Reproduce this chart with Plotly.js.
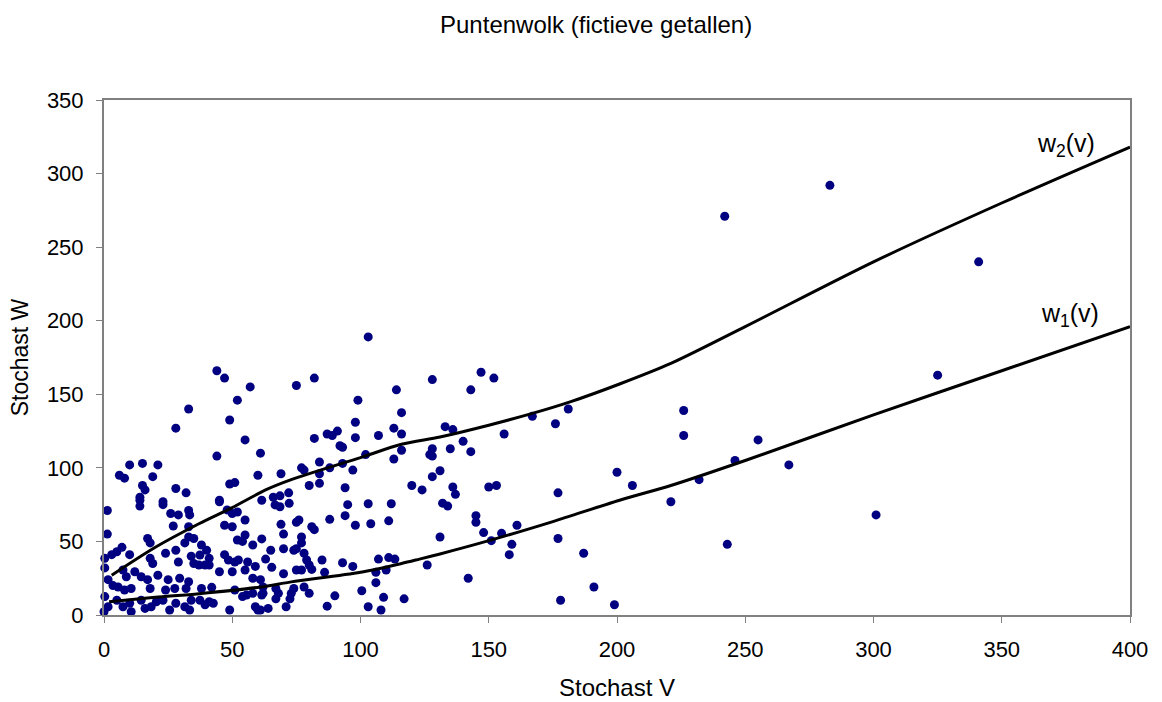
<!DOCTYPE html>
<html>
<head>
<meta charset="utf-8">
<script src="https://cdn.plot.ly/plotly-3.0.1.min.js"></script>
<style>html,body{margin:0;padding:0;background:#fff;}#chart{width:1162px;height:702px;}</style>
</head>
<body>
<div id="chart"></div>
<script>
// Scatter points: Stochast V and Stochast W
const pointsV = [
242,283,341,325,301,267,255,246,243,232,226,226,221,206,200,199,191,187,181,176,177,177,178,167,
128,147,152,143,133,136,156,140,128,127,128,135,143,131,128,124,136,137,150,153,132,134,145,145,148,155,161,151,159,158,131,126,142,
103,44,47,57,52,75,82,99,114,116,49,98,
33,28,55,44,61,10,15,21,6,8,19,60,15,49,51,28,
16,14,32,23,
69,45,61.5,66,68.6,72,
82,87,89,91,98,107,113,116,92,93,102,113,116,84,77,78,88,93,97,84,84,80,94,120,
66.7,68.6,72.2,95,103,112,94,88,98,104,111,76,75,69,70,81,82,77,77,75,74,61.5,70,65,78,79,80,63,65.4,70,75,77,81,85,86,93,97,107,111,113.4,106,110,106,100.5,90,109,117,87,103,108,62,62,61,67,68,67,74,73,72.5,71,78,80,64,61,
1.3,14,14,23,26,29,33,33.4,27,33,1.3,17,18,33,35,31.5,7,5,3,0.3,10,18,19,24,28,29,34,35,0.3,1.6,3.5,7.4,8.7,12,14.5,5.5,8,10.6,17,21,25,29.5,33,18,24,27.6,32,0.3,1.6,0,5,7.4,10,10.6,14.5,16,18.4,20.4,23,25.6,28,31.5,34,33.4,
45,48,50,52,55,47,50,55,52,54,58,38,37.4,40,41,47,48.5,51,52.4,56,59,58,37,39.4,41,45,50,55,38,42,51,54,55.6,58,61.5,37.4,39.4,41,42.6,49,59,60
];
const pointsW = [
271,292,240,163,68,102,119,105,48,92,139,122,77,88,97,7,19,42,140,130,83,52,10,135,
160,165,161,153,128,126,123,118,113,109,108,113,111,98,94,85,87,82,87,88,76,74,67.5,63,56,55.5,61,50.5,48,41,53,34,25,
189,166,161,155,146,156,161,146,153,137.5,132.5,131,
140,127,119,108,110,102,103,102,95,93,94,95,88,89,90,86,
85,80,83,77,
96,78,78,80,81,83,
120,123,122,125,120.5,122,127,123,115,114,109,106,112,104,100,98.5,100,103,98.5,96,89.5,88,86.5,88,
74.8,73.6,75.9,75,75.6,75.6,67.5,65,61,62,64,64.6,63,61.6,55,60,58,53,49,45,44,51.7,45,44,42,37.4,34,38,32.4,28,30.6,30.6,31,37.4,29,35.5,33,38,39,38,29,30.6,22,16.5,13,12,11,6,5.6,3.4,19,14.7,24,18,14.7,11,18,14.7,11,5.6,19,14.7,4.5,3.4,
71,74,78,75,69,68,71,68,60.5,60,55,52,49,53,52,49,46,43,41,38.5,41,38.5,35,42,44,36,40,35,32,24,20,30.6,26,29.4,26,19,17,18,24,27,24,25,22.6,18,17,18,18,12.5,5.6,2.2,10,5.6,8,2.2,10,4.5,5.6,9,10,3.4,8,5.6,10,3.4,
77,71.4,69,70,64.6,61,60,54.4,51,50,47.6,47.6,40.8,44,38.5,41,37.4,36,37.4,36,33,25,34,34,34,29.4,29.4,30.6,18,18.8,17,12.5,13.6,14.7,13.6,10,7,9,8,3.4,5.6,3.4
];
// Curve w1(v) (lower) and w2(v) (upper)
const w1V = [2, 20, 37, 61, 73, 100, 116, 123, 131, 149, 175, 201, 221, 250, 300, 350, 400];
const w1W = [9, 12, 14.5, 19, 22.5, 29, 35, 38, 41.5, 50, 63.5, 78, 88, 105, 136, 166, 196];
const w2V = [3, 20, 37, 50, 63, 73, 100, 116, 131, 150, 167, 182, 201, 221, 250, 300, 350, 400];
const w2W = [27, 46, 62, 73, 85, 92, 107, 116, 121, 129, 137, 145, 157, 171, 196, 240, 280, 318];
const xTicks = [0, 50, 100, 150, 200, 250, 300, 350, 400];
const yTicks = [0, 50, 100, 150, 200, 250, 300, 350];

const font = "Liberation Sans, Arial, sans-serif";
const traces = [
  {x: pointsV, y: pointsW, type: 'scatter', mode: 'markers',
   marker: {color: '#000080', size: 9}, hoverinfo: 'x+y', cliponaxis: false},
  {x: w2V, y: w2W, type: 'scatter', mode: 'lines',
   line: {color: '#000000', width: 3, shape: 'spline', smoothing: 0.8}},
  {x: w1V, y: w1W, type: 'scatter', mode: 'lines',
   line: {color: '#000000', width: 3, shape: 'spline', smoothing: 0.8}}
];
const axisCommon = {
  showgrid: false, zeroline: false, showline: true, mirror: true,
  linecolor: '#808080', linewidth: 2, ticks: 'outside', ticklen: 6,
  tickcolor: '#808080', tickwidth: 1, ticklabelstandoff: 8,
  tickfont: {family: font, size: 22, color: '#000'}
};
const layout = {
  width: 1162, height: 702,
  margin: {l: 104, r: 32, t: 100, b: 87},
  paper_bgcolor: '#fff', plot_bgcolor: '#fff',
  showlegend: false,
  font: {family: font, color: '#000'},
  title: {text: 'Puntenwolk (fictieve getallen)', font: {family: font, size: 24, color: '#000'},
          x: 0.513, xanchor: 'center', y: 0.965, yanchor: 'middle'},
  xaxis: Object.assign({}, axisCommon, {
    range: [0, 400], tickvals: xTicks, ticktext: xTicks.map(String),
    title: {text: 'Stochast V', font: {family: font, size: 24, color: '#000'}, standoff: 18}
  }),
  yaxis: Object.assign({}, axisCommon, {
    range: [0, 350], tickvals: yTicks, ticktext: yTicks.map(String),
    title: {text: 'Stochast W', font: {family: font, size: 23, color: '#000'}, standoff: 12}
  }),
  annotations: [
    {x: 400, y: 318, xref: 'x', yref: 'y', text: 'w<sub>2</sub>(v)', showarrow: false,
     xanchor: 'right', yanchor: 'middle', xshift: -33, yshift: 2, font: {family: font, size: 25, color: '#000'}},
    {x: 400, y: 196, xref: 'x', yref: 'y', text: 'w<sub>1</sub>(v)', showarrow: false,
     xanchor: 'right', yanchor: 'middle', xshift: -29, yshift: 12, font: {family: font, size: 25, color: '#000'}}
  ]
};
Plotly.newPlot('chart', traces, layout, {displayModeBar: false, staticPlot: true});
</script>
</body>
</html>
